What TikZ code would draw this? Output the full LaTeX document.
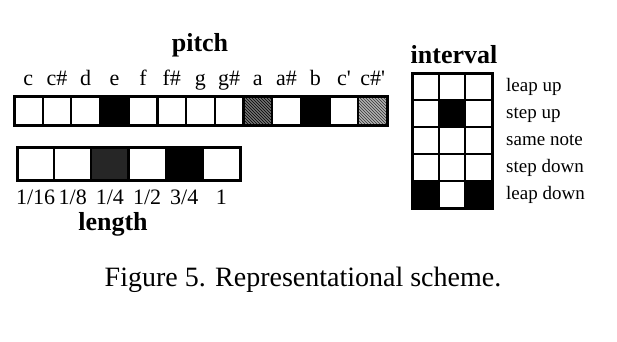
\documentclass[tikz,border=0pt]{standalone}
\usepackage{fontspec}
\setmainfont{Liberation Serif}
\usepackage{textcomp}
\usepackage{tikz}
\usetikzlibrary{patterns}

\begin{document}
\begin{tikzpicture}[
    x=1pt, y=-1pt,
    title/.style={font=\fontsize{26}{30}\selectfont\bfseries, inner sep=0pt, anchor=base},
    tick/.style={font=\fontsize{22}{26}\selectfont, inner sep=0pt, anchor=base},
    side/.style={font=\fontsize{19}{22}\selectfont, inner sep=0pt, anchor=base west},
    cell/.style={draw, line width=2.2pt},
    frame/.style={draw, line width=3pt},
    hatchdark/.style={pattern color=black, pattern=north west lines},
    hatchlight/.style={pattern color=black!80, pattern=north west lines}
]
\useasboundingbox (0,0) rectangle (617,341);

% pitch bar
\node[title] (pitch) at (200,51) {pitch};
\foreach \n/\lab in {1/c,2/c\#,3/d,4/e,5/f,6/f\#,7/g,8/g\#,9/a,10/a\#,11/b,12/c\textquotesingle,13/c\#\textquotesingle} {
  \coordinate (p\n) at ({14+28.69*(\n-1)},96);
  \node[tick] (pl\n) at ({14+28.69*(\n-0.5)},85) {\lab};
}
\foreach \n in {4,11} \fill (p\n) rectangle ++(28.69,29);
\fill[black!55] (p9) rectangle ++(28.69,29);
\fill[hatchdark] (p9) rectangle ++(28.69,29);
\fill[black!30] (p13) rectangle ++(28.69,29);
\fill[hatchlight] (p13) rectangle ++(28.69,29);
\foreach \n in {2,...,13} \draw[cell] (p\n) -- ++(0,29);
\draw[frame] (14,96) rectangle (387,125);

% length bar
\foreach \n/\lab in {1/1\slash16,2/1\slash8,3/1\slash4,4/1\slash2,5/3\slash4,6/1} {
  \coordinate (q\n) at ({17+37.17*(\n-1)},147);
  \node[tick] (ql\n) at ({17+37.17*(\n-0.5)},204) {\lab};
}
\fill[black!85] (q3) rectangle ++(37.17,33);
\fill (q5) rectangle ++(37.17,33);
\foreach \n in {2,...,6} \draw[cell] (q\n) -- ++(0,33);
\draw[frame] (17,147) rectangle (240,180);
\node[title] (length) at (113,230) {length};

% interval grid
\node[title] (interval) at (454,63) {interval};
\fill (438.67,100) rectangle ++(26.67,27);
\fill (412,181) rectangle ++(26.67,27);
\fill (465.33,181) rectangle ++(26.67,27);
\foreach \c in {1,2} \draw[cell] ({412+26.67*\c},73) -- ++(0,135);
\foreach \r in {1,...,4} \draw[cell] (412,{73+27*\r}) -- ++(80,0);
\draw[frame] (412,73) rectangle (492,208);
\foreach \r/\lab in {1/leap up,2/step up,3/same note,4/step down,5/leap down}
  \node[side] (il\r) at (506,{73+27*(\r-0.5)+5}) {\lab};

% caption
\node[font=\fontsize{28}{32}\selectfont, inner sep=0pt, anchor=base] (caption) at (303,286) {Figure 5. Representational scheme.};
\end{tikzpicture}
\end{document}
